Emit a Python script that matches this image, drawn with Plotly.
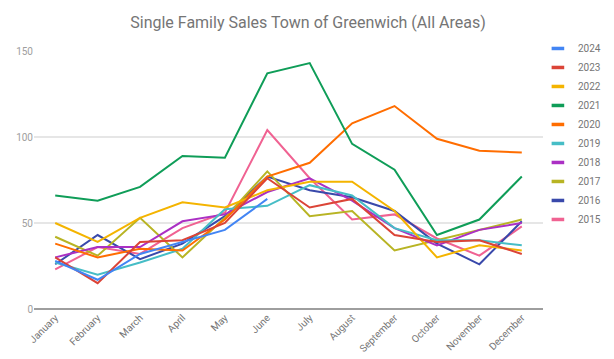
import plotly.graph_objects as go

months = ["January", "February", "March", "April", "May", "June", "July",
          "August", "September", "October", "November", "December"]

y2024 = [28, 17, 32, 39, 46, 64]
y2023 = [30, 15, 39, 40, 50, 76, 59, 64, 43, 39, 40, 32]
y2022 = [50, 39, 53, 62, 59, 69, 74, 74, 57, 30, 37, 34]
y2021 = [66, 63, 71, 89, 88, 137, 143, 96, 81, 43, 52, 77]
y2020 = [38, 30, 35, 34, 52, 77, 85, 108, 118, 99, 92, 91]
y2019 = [27, 20, 27, 35, 58, 60, 72, 66, 47, 40, 40, 37]
y2018 = [30, 36, 36, 51, 55, 68, 76, 63, 47, 37, 46, 50]
y2017 = [42, 31, 53, 30, 53, 80, 54, 57, 34, 40, 46, 52]
y2016 = [26, 43, 29, 38, 54, 77, 69, 65, 57, 38, 26, 51]
y2015 = [23, 36, 32, 47, 56, 104, 76, 52, 55, 41, 31, 48]

years = ["2024", "2023", "2022", "2021", "2020", "2019", "2018", "2017", "2016", "2015"]
series = [y2024, y2023, y2022, y2021, y2020, y2019, y2018, y2017, y2016, y2015]
colors = ["#4285F4", "#DB4437", "#F4B400", "#0F9D58", "#FF6D00",
          "#46BDC6", "#AB30C4", "#B8B424", "#3949AB", "#F06292"]

# The page body has an 8px default margin, so the figure is sized to the
# visible area (614-8) x (359-8).
W, H = 606, 351

fig = go.Figure()
# draw older years first so recent ones sit on top
for name, vals, col in reversed(list(zip(years, series, colors))):
    fig.add_trace(go.Scatter(
        x=months[:len(vals)], y=vals, mode="lines", name=name,
        line=dict(color=col, width=2), legendgroup=name, showlegend=False,
        hovertemplate="%{x}: %{y}<extra>" + name + "</extra>"))

for name, col in zip(years, colors):
    fig.add_trace(go.Scatter(
        x=[None], y=[None], mode="markers", name=name, legendgroup=name,
        marker=dict(symbol="line-ew", size=9, color=col,
                    line=dict(width=3.5, color=col)),
        showlegend=True))

fig.update_layout(
    width=W, height=H,
    margin=dict(l=26, r=71, t=43, b=50, autoexpand=False),
    paper_bgcolor="white", plot_bgcolor="white",
    font=dict(family="Roboto, Arial, sans-serif", color="#757575", size=10),
    title=dict(text="Single Family Sales Town of Greenwich (All Areas)",
               x=300 / W, xref="container", xanchor="center",
               y=(H - 14) / H, yref="container", yanchor="middle",
               font=dict(size=16, color="#757575", family="Roboto, Arial, sans-serif")),
    xaxis=dict(type="category", categoryorder="array", categoryarray=months,
               range=[-0.5, 11.5], showgrid=False, tickangle=-45, automargin=False,
               tickfont=dict(size=10, color="#757575"), ticks="", zeroline=False),
    yaxis=dict(range=[0, 150], tickvals=[0, 50, 100, 150], showgrid=True,
               gridcolor="#e6e6e6", gridwidth=1.5, zeroline=True, automargin=False,
               zerolinecolor="#9e9e9e", zerolinewidth=2,
               tickfont=dict(size=10, color="#9e9e9e"), ticks=""),
    legend=dict(x=0.990, xanchor="left", y=1.066, yanchor="top",
                tracegroupgap=0, font=dict(size=10, color="#757575"),
                itemwidth=30, bgcolor="rgba(0,0,0,0)", maxheight=320),
    showlegend=True,
)

fig.write_html("out.html")
